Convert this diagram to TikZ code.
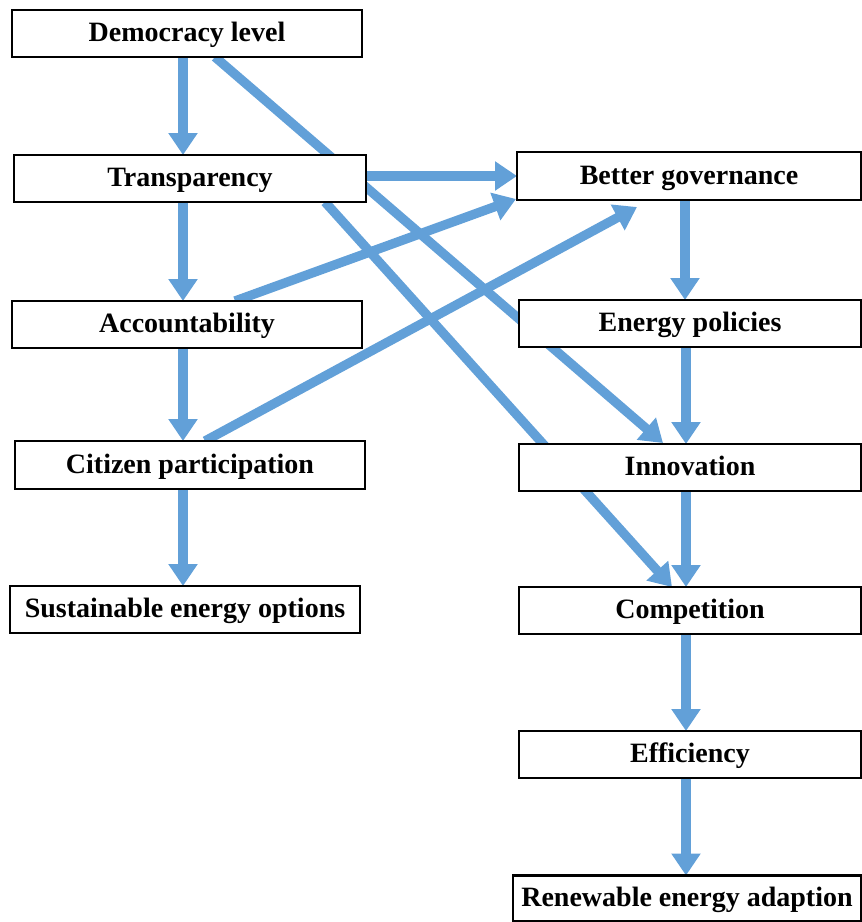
\documentclass[tikz,border=0pt]{standalone}
\usepackage{fontspec}
\setmainfont{Liberation Serif}
\usetikzlibrary{arrows.meta,calc}
\pgfdeclarelayer{back}
\pgfsetlayers{back,main}
\definecolor{arrblue}{RGB}{98,160,216}
\tikzset{
  box/.style={draw=black, line width=1.8pt, fill=white, inner sep=0pt, outer sep=0pt,
    minimum height=35.25pt, text height=13.5pt, text depth=1.5pt,
    font=\fontsize{21}{25}\selectfont\bfseries},
  arr/.style={line width=7pt, draw=arrblue, -{Triangle[width=21pt,length=16.5pt]}}
}
\begin{document}
\begin{tikzpicture}[x=0.75pt,y=-0.75pt]
\useasboundingbox (0,0) rectangle (862,922);
% left column
\node[box, minimum width=262.5pt] (dem) at (187,33.5) {Democracy level};
\node[box, minimum width=264pt] (tra) at (190,178.5) {Transparency};
\node[box, minimum width=262.5pt] (acc) at (187,324.5) {Accountability};
\node[box, minimum width=262.5pt, minimum height=36pt] (cit) at (190,465) {Citizen participation};
\node[box, minimum width=262.5pt] (sus) at (185,609.5) {Sustainable energy options};
% right column
\node[box, minimum width=258pt, minimum height=36pt] (bg) at (689,176) {Better governance};
\node[box, minimum width=256.5pt] (ep) at (690,323.5) {Energy policies};
\node[box, minimum width=256.5pt] (inn) at (690,467.5) {Innovation};
\node[box, minimum width=256.5pt] (com) at (690,610.5) {Competition};
\node[box, minimum width=256.5pt] (eff) at (690,754.5) {Efficiency};
\node[box, minimum width=261pt, minimum height=34.5pt] (ren) at (687,898.5) {Renewable energy adaption};
\begin{pgfonlayer}{back}
% vertical arrows left
\draw[arr] ($(dem.south)+(-4,0)$) -- ($(tra.north)+(-7,0)$);
\draw[arr] ($(tra.south)+(-7,0)$) -- ($(acc.north)+(-4,0)$);
\draw[arr] ($(acc.south)+(-4,0)$) -- ($(cit.north)+(-7,0)$);
\draw[arr] ($(cit.south)+(-7,0)$) -- ($(sus.north)+(-2,0)$);
% vertical arrows right
\draw[arr] ($(bg.south)+(-4,0)$) -- ($(ep.north)+(-5,0)$);
\draw[arr] ($(ep.south)+(-4,0)$) -- ($(inn.north)+(-4,0)$);
\draw[arr] ($(inn.south)+(-4,0)$) -- ($(com.north)+(-4,0)$);
\draw[arr] ($(com.south)+(-4,0)$) -- ($(eff.north)+(-4,0)$);
\draw[arr] ($(eff.south)+(-4,0)$) -- ($(ren.north)+(-1,0)$);
% diagonal and horizontal arrows
\draw[arr] ($(dem.south)+(28,0)$) -- ($(inn.north)+(-27,-1)$);
\draw[arr] ($(tra.south)+(135,0)$) -- ($(com.north)+(-18,0)$);
\draw[arr] ($(tra.east)+(0,-2.5)$) -- ($(bg.west)+(0,0)$);
\draw[arr] ($(acc.north)+(48,0)$) -- ($(bg.south west)+(-1,-1)$);
\draw[arr] ($(cit.north)+(15,0)$) -- ($(bg.south)+(-52,7)$);
\end{pgfonlayer}
\end{tikzpicture}
\end{document}
